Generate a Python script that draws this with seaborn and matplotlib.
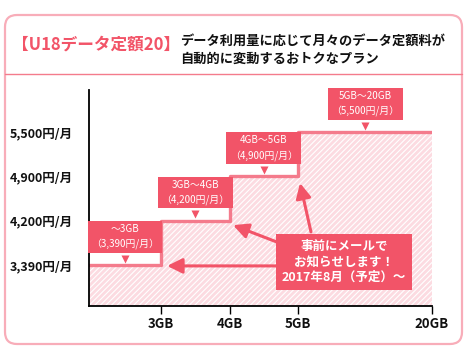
import numpy as np
import matplotlib.pyplot as plt
import seaborn as sns
from matplotlib.patches import FancyBboxPatch
from matplotlib.transforms import offset_copy

sns.set_style('white')
plt.rcParams['font.family'] = ['Noto Sans CJK JP', 'DejaVu Sans']
plt.rcParams['hatch.linewidth'] = 0.8

# data
gb_ticks = ['3GB', '4GB', '5GB', '20GB']
prices = [3390, 4200, 4900, 5500]
price_labels = ['3,390円/月', '4,200円/月', '4,900円/月', '5,500円/月']
ranges = ['～3GB', '3GB～4GB', '4GB～5GB', '5GB～20GB']
title_tag = '【U18データ定額20】'
title_text = 'データ利用量に応じて月々のデータ定額料が\n自動的に変動するおトクなプラン'
notice = '事前にメールで\nお知らせします！\n2017年8月（予定）～'

PINK = '#f25468'
LINE = '#f47b8c'
FILL = '#fcdbe1'

# axis is not to scale: tick positions and evenly spaced price levels
x_pos = [1.05, 2.05, 3.05, 5.0]
edges = [0] + x_pos
levels = list(range(len(prices)))
step_y = levels + [levels[-1]]

fig = plt.figure(figsize=(4.69, 3.52), dpi=100)

# background frame (pixel coordinates)
bg = fig.add_axes([0, 0, 1, 1])
bg.set_xlim(0, 469)
bg.set_ylim(352, 0)
bg.axis('off')
bg.add_patch(FancyBboxPatch((5, 15), 457, 329, boxstyle='round,pad=0,rounding_size=12',
                            fc='white', ec='#f8adb9', lw=1.6))
bg.plot([5, 462], [74, 74], color=LINE, lw=1)
bg.text(12, 45, title_tag, color=PINK, fontsize=12, fontweight='bold', va='center', ha='left')
bg.text(180, 50, title_text, color='#111111', fontsize=9.5, fontweight='bold',
        va='center', ha='left', linespacing=1.4)

# chart
ax = fig.add_axes([89/469, 1-306/352, (432-89)/469, (306-90)/352])
ax.fill_between(edges, step_y, -1, step='post', facecolor=FILL, edgecolor='white',
                hatch='//////', lw=0, zorder=0)
sns.lineplot(x=edges, y=step_y, drawstyle='steps-post', color=LINE, lw=2.4, ax=ax)
ax.set_xlim(0, 5)
ax.set_ylim(-0.925, 3.95)

ax.set_xticks(x_pos, gb_ticks)
ax.set_yticks(levels, price_labels)
ax.tick_params(axis='x', bottom=True, direction='out', length=6, width=1, color='black',
               labelsize=9.5, pad=2)
ax.tick_params(axis='y', left=False, labelsize=9, pad=8)
for lab in ax.get_xticklabels() + ax.get_yticklabels():
    lab.set_fontweight('bold')
    lab.set_color('#111111')
sns.despine(ax=ax)
for s in ['left', 'bottom']:
    ax.spines[s].set_color('black')
    ax.spines[s].set_linewidth(1.3)

# callouts over each step
tri = offset_copy(ax.transData, fig=fig, y=6.5, units='dots')
for i in range(len(prices)):
    mid = (edges[i] + edges[i+1]) / 2
    ax.annotate(f'{ranges[i]}\n（{price_labels[i]}）', xy=(mid, levels[i]), xytext=(0, 20.5),
                textcoords='offset points', ha='center', va='center', color='white',
                fontsize=7.1, linespacing=1.5, zorder=5,
                bbox=dict(boxstyle='square,pad=0.35', fc=PINK, ec='none'))
    ax.plot(mid, levels[i], marker='v', ms=5.5, color=PINK, mec='none',
            transform=tri, zorder=5, clip_on=False)

# notice box with arrows
arrows = [((2.77, -0.02), (1.14, -0.02)),
          ((2.77, 0.50), (2.10, 0.90)),
          ((3.236, 0.745), (3.076, 1.85))]
for start, tip in arrows:
    ax.annotate('', xy=tip, xytext=start, zorder=3,
                arrowprops=dict(arrowstyle='-|>,head_length=0.9,head_width=0.45',
                                color=PINK, lw=2.2, shrinkA=0, shrinkB=0))
ax.text(3.717, 0.07, notice, ha='center', va='center', color='white', fontsize=9,
        fontweight='bold', linespacing=1.25, zorder=6,
        bbox=dict(boxstyle='square,pad=0.45', fc=PINK, ec='none'))

fig.savefig('out.png', dpi=100)
